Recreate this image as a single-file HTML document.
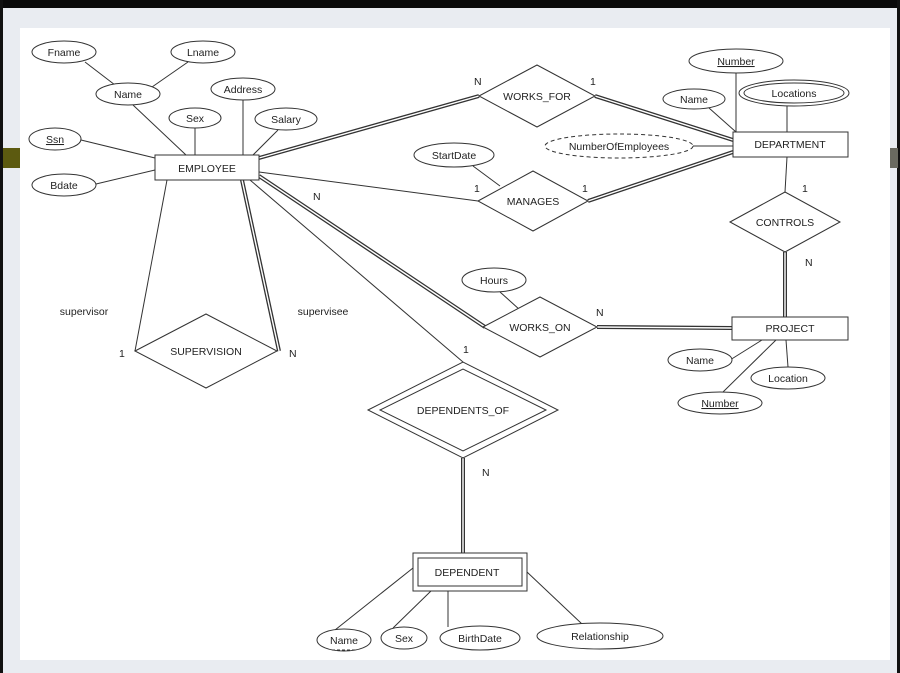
<!DOCTYPE html>
<html><head><style>
body{margin:0;width:900px;height:673px;overflow:hidden;background:#e9ecf1;}
svg{display:block}
text{font-family:"Liberation Sans",sans-serif;font-size:10.5px;fill:#222}
</style></head><body>
<svg width="900" height="673" viewBox="0 0 900 673">
<rect x="0" y="0" width="900" height="673" fill="#e9ecf1"/>
<rect x="0" y="0" width="900" height="8" fill="#0a0a0a"/>
<rect x="0" y="0" width="3" height="673" fill="#111"/>
<rect x="897" y="0" width="3" height="673" fill="#111"/>
<rect x="3" y="148" width="17" height="20" fill="#5c5a10"/>
<rect x="890" y="148" width="8" height="20" fill="#6a6a60"/>
<rect x="20" y="28" width="870" height="632" fill="#fff"/>
<g stroke="#333" stroke-width="1" fill="none">
<line x1="85" y1="62" x2="115" y2="85"/><line x1="188" y1="62" x2="152" y2="87"/>
<line x1="133" y1="105" x2="186" y2="155"/><line x1="195" y1="128" x2="195" y2="155"/>
<line x1="243" y1="100" x2="243" y2="155"/><line x1="278" y1="130" x2="253" y2="155"/>
<line x1="81" y1="140" x2="155" y2="158"/><line x1="96" y1="184" x2="155" y2="170"/>
<line x1="259" y1="172" x2="478" y2="201"/>
<line x1="473" y1="166" x2="500" y2="186"/>
<line x1="693" y1="146" x2="733" y2="146"/>
<line x1="736" y1="73" x2="736" y2="132"/><line x1="709" y1="108" x2="736" y2="132"/>
<line x1="787" y1="106" x2="787" y2="132"/>
<line x1="787" y1="157" x2="785" y2="192"/>
<line x1="500" y1="292" x2="520" y2="310"/>
<line x1="762" y1="340" x2="730" y2="360"/><line x1="786" y1="340" x2="788" y2="367"/>
<line x1="776" y1="340" x2="723" y2="392"/>
<line x1="167" y1="180" x2="135" y2="351"/>
<line x1="250" y1="180" x2="463" y2="362"/>
<line x1="413" y1="568" x2="335" y2="630"/><line x1="432" y1="590" x2="393" y2="628"/>
<line x1="448" y1="591" x2="448" y2="627"/><line x1="527" y1="572" x2="582" y2="624"/>
</g>
<g stroke="#333" stroke-width="4" fill="none">
<line x1="259" y1="158" x2="479" y2="96"/>
<line x1="595" y1="96" x2="733" y2="140"/>
<line x1="588" y1="201" x2="733" y2="152"/>
<line x1="259" y1="176" x2="485" y2="327"/>
<line x1="597" y1="327" x2="732" y2="328"/>
<line x1="785" y1="252" x2="785" y2="317"/>
<line x1="463" y1="458" x2="463" y2="553"/>
<line x1="242" y1="180" x2="279" y2="351"/>
</g>
<g stroke="#fff" stroke-width="1.4" fill="none">
<line x1="259" y1="158" x2="479" y2="96"/>
<line x1="595" y1="96" x2="733" y2="140"/>
<line x1="588" y1="201" x2="733" y2="152"/>
<line x1="259" y1="176" x2="485" y2="327"/>
<line x1="597" y1="327" x2="732" y2="328"/>
<line x1="785" y1="252" x2="785" y2="317"/>
<line x1="463" y1="458" x2="463" y2="553"/>
<line x1="242" y1="180" x2="279" y2="351"/>
</g>
<g stroke="#333" stroke-width="1" fill="#fff">
<ellipse cx="64" cy="52" rx="32" ry="11"/><ellipse cx="203" cy="52" rx="32" ry="11"/>
<ellipse cx="128" cy="94" rx="32" ry="11"/><ellipse cx="243" cy="89" rx="32" ry="11"/>
<ellipse cx="195" cy="118" rx="26" ry="10"/><ellipse cx="286" cy="119" rx="31" ry="11"/>
<ellipse cx="55" cy="139" rx="26" ry="11"/><ellipse cx="64" cy="185" rx="32" ry="11"/>
<rect x="155" y="155" width="104" height="25"/>
<polygon points="479,96 537,65 595,96 537,127"/>
<rect x="733" y="132" width="115" height="25"/>
<ellipse cx="736" cy="61" rx="47" ry="12"/><ellipse cx="694" cy="99" rx="31" ry="10"/>
<ellipse cx="794" cy="93" rx="55" ry="13"/><ellipse cx="794" cy="93" rx="50" ry="10"/>
<ellipse cx="619" cy="146" rx="74" ry="12" stroke-dasharray="4,3"/>
<ellipse cx="454" cy="155" rx="40" ry="12"/>
<polygon points="478,201 533,171 588,201 533,231"/>
<polygon points="730,222 785,192 840,222 785,252"/>
<rect x="732" y="317" width="116" height="23"/>
<ellipse cx="494" cy="280" rx="32" ry="12"/>
<polygon points="483,327 540,297 597,327 540,357"/>
<ellipse cx="700" cy="360" rx="32" ry="11"/><ellipse cx="788" cy="378" rx="37" ry="11"/>
<ellipse cx="720" cy="403" rx="42" ry="11"/>
<polygon points="135,351 206,314 277,351 206,388"/>
<polygon points="368,410 463,362 558,410 463,458"/>
<polygon points="380,410 463,369 546,410 463,451"/>
<rect x="413" y="553" width="114" height="38"/><rect x="418" y="558" width="104" height="28"/>
<ellipse cx="344" cy="640" rx="27" ry="11"/><ellipse cx="404" cy="638" rx="23" ry="11"/>
<ellipse cx="480" cy="638" rx="40" ry="12"/><ellipse cx="600" cy="636" rx="63" ry="13"/>
</g>
<g text-anchor="middle">
<text x="64" y="56">Fname</text><text x="203" y="56">Lname</text><text x="128" y="98">Name</text>
<text x="243" y="93">Address</text><text x="195" y="122">Sex</text><text x="286" y="123">Salary</text>
<text x="55" y="143" text-decoration="underline">Ssn</text><text x="64" y="189">Bdate</text>
<text x="207" y="172" font-size="12">EMPLOYEE</text>
<text x="537" y="100" font-size="12">WORKS_FOR</text>
<text x="790" y="148" font-size="12">DEPARTMENT</text>
<text x="736" y="65" text-decoration="underline">Number</text><text x="694" y="103">Name</text>
<text x="794" y="97">Locations</text><text x="619" y="150" font-size="9.5">NumberOfEmployees</text>
<text x="454" y="159" font-size="10">StartDate</text><text x="533" y="205" font-size="12">MANAGES</text>
<text x="785" y="226" font-size="12">CONTROLS</text><text x="790" y="332" font-size="12">PROJECT</text>
<text x="494" y="284">Hours</text><text x="540" y="331" font-size="12">WORKS_ON</text>
<text x="700" y="364">Name</text><text x="788" y="382">Location</text>
<text x="720" y="407" text-decoration="underline">Number</text>
<text x="206" y="355" font-size="12">SUPERVISION</text>
<text x="463" y="414" font-size="12">DEPENDENTS_OF</text>
<text x="467" y="576" font-size="12">DEPENDENT</text>
<text x="344" y="644">Name</text><text x="404" y="642">Sex</text>
<text x="480" y="642">BirthDate</text><text x="600" y="640">Relationship</text>
<text x="84" y="315" font-size="10">supervisor</text><text x="323" y="315" font-size="10">supervisee</text>
</g>
<g font-size="10">
<text x="119" y="357">1</text><text x="289" y="357">N</text>
<text x="474" y="85">N</text><text x="590" y="85">1</text>
<text x="474" y="192">1</text><text x="582" y="192">1</text>
<text x="313" y="200">N</text><text x="802" y="192">1</text>
<text x="805" y="266">N</text><text x="596" y="316">N</text>
<text x="463" y="353">1</text><text x="482" y="476">N</text>
</g>
<line x1="332" y1="650" x2="356" y2="650" stroke="#333" stroke-dasharray="3,2"/>
</svg>
</body></html>
